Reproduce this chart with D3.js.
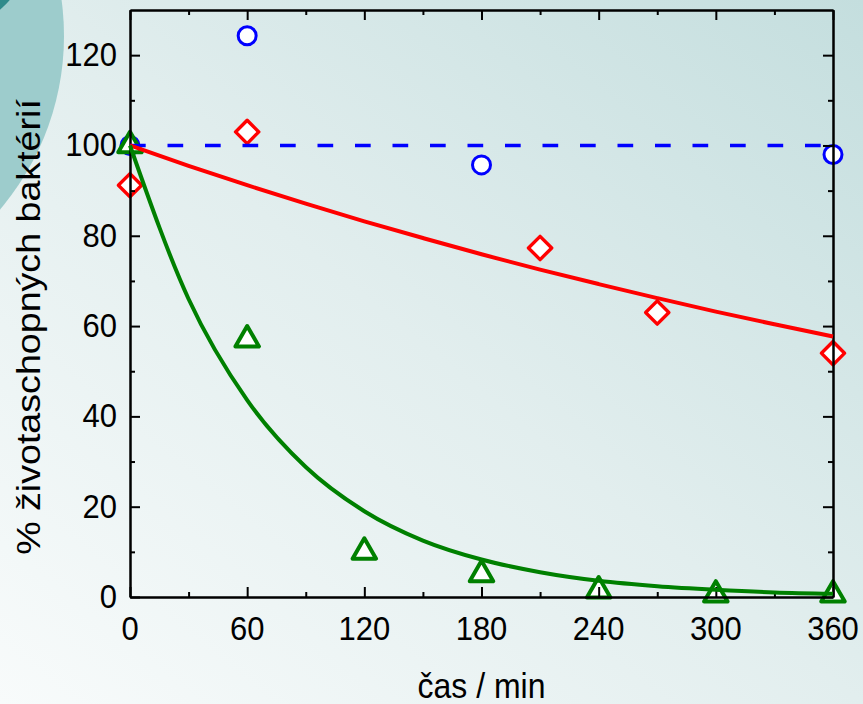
<!DOCTYPE html>
<html>
<head>
<meta charset="utf-8">
<script src="https://cdn.jsdelivr.net/npm/d3@7"></script>
<style>
  html, body { margin: 0; padding: 0; overflow: hidden; background: #fff; }
  svg { display: block; }
  .lbl { font-family: "Liberation Sans", Arial, Helvetica, sans-serif; fill: #000; }
</style>
</head>
<body>
<svg id="chart" width="863" height="704"></svg>
<script>
// Axis ticks
const timeTicks = [0, 60, 120, 180, 240, 300, 360];
const timeMinorTicks = [30, 90, 150, 210, 270, 330];
const pctTicks = [0, 20, 40, 60, 80, 100, 120];
const pctMinorTicks = [10, 30, 50, 70, 90, 110];

// Control samples (blue circles) and their reference level
const controlTime = [0, 60, 180, 360];
const controlPct = [100, 124.3, 95.7, 98];
const controlLevel = 100;

// Treated samples, slow decline (red diamonds)
const redTime = [0, 60, 210, 270, 360];
const redPct = [91.2, 103, 77.3, 63, 54];

// Treated samples, fast decline (green triangles)
const greenTime = [0, 60, 120, 180, 240, 300, 360];
const greenPct = [100, 57, 10, 5, 1.4, 0.5, 0.5];

// Fitted decay curves
const fitTime = [0, 30, 60, 90, 120, 150, 180, 210, 240, 270, 300, 330, 360];
const redFit = [100, 95.5, 91.2, 87.1, 83.2, 79.5, 75.9, 72.5, 69.3, 66.2, 63.2, 60.4, 57.7];
const greenFit = [100, 66, 43.6, 28.8, 19, 12.5, 8.3, 5.5, 3.6, 2.4, 1.6, 1.0, 0.7];

const W = 863, H = 704;
const plot = { left: 130, right: 833, top: 10, bottom: 597 };
const STRETCH = 1.1; // vertical stretch of lettering

const svg = d3.select("#chart");

// Background
const defs = svg.append("defs");
const bg = defs.append("linearGradient").attr("id", "bg")
  .attr("x1", "0").attr("y1", "1").attr("x2", "1").attr("y2", "0");
bg.append("stop").attr("offset", "0").attr("stop-color", "#f8fbfb");
bg.append("stop").attr("offset", "0.5").attr("stop-color", "#e2eeee");
bg.append("stop").attr("offset", "1").attr("stop-color", "#c4dede");
svg.append("rect").attr("width", W).attr("height", H).attr("fill", "url(#bg)");

// Decorative discs at the top-left corner
svg.append("circle").attr("cx", -203).attr("cy", 36).attr("r", 267).attr("fill", "#9dcccc");
svg.append("circle").attr("cx", -60).attr("cy", -60).attr("r", 92).attr("fill", "#2f8a8a");

const x = d3.scaleLinear().domain([0, 360]).range([plot.left, plot.right]);
const y = d3.scaleLinear().domain([0, 130]).range([plot.bottom, plot.top]);

// Markers
const diamond = d3.symbol().type(d3.symbolSquare).size(270);
const triangle = d3.symbol().type(d3.symbolTriangle).size(240);

svg.append("g").selectAll("circle")
  .data(d3.zip(controlTime, controlPct))
  .join("circle")
  .attr("cx", d => x(d[0])).attr("cy", d => y(d[1])).attr("r", 9)
  .attr("fill", "#fff").attr("stroke", "#0000ff").attr("stroke-width", 3);

svg.append("g").selectAll("path")
  .data(d3.zip(redTime, redPct))
  .join("path")
  .attr("d", diamond)
  .attr("transform", d => `translate(${x(d[0])},${y(d[1])}) rotate(45)`)
  .attr("fill", "#fff").attr("stroke", "#ff0000").attr("stroke-width", 3.4)
  .attr("stroke-linejoin", "round");

svg.append("g").selectAll("path")
  .data(d3.zip(greenTime, greenPct))
  .join("path")
  .attr("d", triangle)
  .attr("transform", d => `translate(${x(d[0])},${y(d[1])})`)
  .attr("fill", "#fff").attr("stroke", "#008000").attr("stroke-width", 4)
  .attr("stroke-linejoin", "round");

// Axes frame with inward ticks
const axisG = svg.append("g").attr("stroke-width", 2);
function addAxis(axisFn, scale, values, size, transform) {
  const g = axisG.append("g").attr("transform", transform)
    .call(axisFn(scale).tickValues(values).tickSize(size).tickFormat("").tickSizeOuter(0));
  g.select(".domain").attr("stroke", "#000").attr("stroke-width", 2);
  g.selectAll(".tick line").attr("stroke", "#000").attr("stroke-width", 2);
  return g;
}
addAxis(d3.axisBottom, x, timeTicks, -10, `translate(0,${plot.bottom})`);
addAxis(d3.axisBottom, x, timeMinorTicks, -5, `translate(0,${plot.bottom})`);
addAxis(d3.axisTop, x, timeTicks, -10, `translate(0,${plot.top})`);
addAxis(d3.axisTop, x, timeMinorTicks, -5, `translate(0,${plot.top})`);
addAxis(d3.axisLeft, y, pctTicks, -10, `translate(${plot.left},0)`);
addAxis(d3.axisLeft, y, pctMinorTicks, -5, `translate(${plot.left},0)`);
addAxis(d3.axisRight, y, pctTicks, -10, `translate(${plot.right},0)`);
addAxis(d3.axisRight, y, pctMinorTicks, -5, `translate(${plot.right},0)`);

// Control reference level
svg.append("line")
  .attr("x1", x(0)).attr("x2", x(360))
  .attr("y1", y(controlLevel)).attr("y2", y(controlLevel))
  .attr("stroke", "#0000ff").attr("stroke-width", 3.5)
  .attr("stroke-dasharray", "15.7,21.8");

// Fitted curves
const line = (vals) => d3.line()
  .x((d, i) => x(fitTime[i])).y(d => y(d))
  .curve(d3.curveMonotoneX)(vals);
svg.append("path").attr("d", line(redFit))
  .attr("fill", "none").attr("stroke", "#ff0000").attr("stroke-width", 4);
svg.append("path").attr("d", line(greenFit))
  .attr("fill", "none").attr("stroke", "#008000").attr("stroke-width", 4);

// Tick labels
const fs = 31;
svg.append("g").selectAll("text")
  .data(timeTicks).join("text")
  .attr("class", "lbl").attr("font-size", fs).attr("text-anchor", "middle")
  .attr("transform", d => `translate(${x(d)},640) scale(1,${STRETCH})`)
  .text(d => d);

svg.append("g").selectAll("text")
  .data(pctTicks).join("text")
  .attr("class", "lbl").attr("font-size", fs).attr("text-anchor", "end")
  .attr("transform", d => `translate(117,${y(d) + 11}) scale(1,${STRETCH})`)
  .text(d => d);

// Axis titles
svg.append("text").attr("class", "lbl").attr("font-size", 32).attr("text-anchor", "middle")
  .attr("transform", `translate(${(plot.left + plot.right) / 2},698) scale(1,${STRETCH})`)
  .text("čas / min");

svg.append("text").attr("class", "lbl").attr("font-size", 33).attr("text-anchor", "middle")
  .attr("transform", `translate(40,327) scale(1,1.14) rotate(-90)`)
  .text("% životaschopných baktérií");
</script>
</body>
</html>
